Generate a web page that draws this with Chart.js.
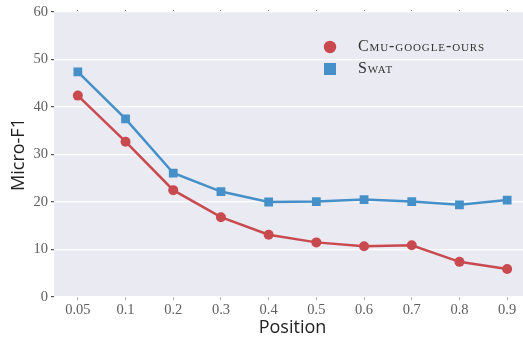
<!DOCTYPE html>
<html>
<head>
<meta charset="utf-8">
<script src="https://cdn.jsdelivr.net/npm/chart.js@4"></script>
<style>
  html, body { margin: 0; padding: 0; background: #fff; overflow: hidden; }
  #wrap { position: relative; width: 540px; height: 339px; }
</style>
</head>
<body>
<div id="wrap"><canvas id="chart"></canvas></div>
<script>
// Micro-F1 against position, two systems
const positions = ["0.05", "0.1", "0.2", "0.3", "0.4", "0.5", "0.6", "0.7", "0.8", "0.9"];
const cmuGoogleOurs = [42.4, 32.7, 22.5, 16.8, 13.1, 11.5, 10.7, 10.9, 7.4, 5.9];
const swat = [47.4, 37.5, 26.1, 22.2, 20.0, 20.1, 20.5, 20.1, 19.4, 20.4];
const yTicks = [0, 10, 20, 30, 40, 50, 60];

const RED = "#c84a4e";
const BLUE = "#4590c8";
const PANEL = "#eaeaf2";
const TICK_FONT = { family: "'Liberation Serif', 'DejaVu Serif', serif", size: 14.5 };
const TITLE_FONT = { family: "'Open Sans', 'DejaVu Sans', sans-serif", size: 18 };

// grey panel behind the plot
const panelBg = {
  id: "panelBg",
  beforeDraw(chart) {
    const a = chart.chartArea;
    const ctx = chart.ctx;
    ctx.save();
    ctx.fillStyle = PANEL;
    ctx.fillRect(a.left, a.top, a.right - a.left, a.bottom - a.top);
    ctx.restore();
  }
};

// legend drawn inside the panel, labels in small caps
const insideLegend = {
  id: "insideLegend",
  afterDraw(chart) {
    const ctx = chart.ctx;
    const a = chart.chartArea;
    const x0 = a.left + 276;
    let y = a.top + 35;
    ctx.save();
    chart.data.datasets.forEach((ds) => {
      ctx.fillStyle = ds.borderColor;
      if (ds.pointStyle === "rect") {
        ctx.fillRect(x0 - 6, y - 6, 12, 12);
      } else {
        ctx.beginPath();
        ctx.arc(x0, y, 6.2, 0, Math.PI * 2);
        ctx.fill();
      }
      ctx.fillStyle = "#333";
      ctx.font = "16px 'Liberation Serif', 'DejaVu Serif', serif";
      ctx.fontVariantCaps = "small-caps";
      ctx.letterSpacing = "0.9px";
      ctx.textBaseline = "middle";
      ctx.fillText(ds.label, x0 + 28, y);
      y += 22;
    });
    ctx.restore();
  }
};

new Chart(document.getElementById("chart"), {
  type: "line",
  data: {
    labels: positions,
    datasets: [
      {
        label: "Cmu-google-ours",
        data: cmuGoogleOurs,
        borderColor: RED,
        backgroundColor: RED,
        borderWidth: 2.5,
        pointStyle: "circle",
        pointRadius: 5,
        pointBorderWidth: 0,
        tension: 0
      },
      {
        label: "Swat",
        data: swat,
        borderColor: BLUE,
        backgroundColor: BLUE,
        borderWidth: 2.5,
        pointStyle: "rect",
        pointRadius: 6.2,
        pointBorderWidth: 0,
        tension: 0
      }
    ]
  },
  options: {
    responsive: true,
    maintainAspectRatio: false,
    animation: false,
    layout: { padding: { left: 0, right: 9, top: 0, bottom: 0 } },
    plugins: {
      legend: { display: false },
      tooltip: { enabled: false }
    },
    scales: {
      x: {
        type: "category",
        offset: true,
        border: { display: false },
        grid: { color: "rgba(0,0,0,0)", tickColor: "#aaa", tickLength: 3, offset: false },
        ticks: { color: "#606060", font: TICK_FONT, padding: 1, maxRotation: 0 },
        title: { display: true, text: "Position", color: "#222", font: TITLE_FONT, padding: { top: 0, bottom: 0 } },
        afterFit(scale) { scale.height = 42; }
      },
      xTop: {
        type: "category",
        position: "top",
        offset: true,
        border: { display: false },
        grid: { color: "rgba(0,0,0,0)", tickColor: "#888", tickLength: 2, offset: false },
        ticks: { display: false },
        afterFit(scale) { scale.height = 12; }
      },
      y: {
        min: 0,
        max: 60,
        afterBuildTicks(scale) { scale.ticks = yTicks.map((v) => ({ value: v })); },
        border: { display: false },
        grid: { color: "#ffffff", lineWidth: 1.2, tickColor: "#555", tickLength: 3 },
        ticks: { color: "#606060", font: TICK_FONT, padding: 3 },
        title: { display: true, text: "Micro-F1", color: "#222", font: TITLE_FONT, padding: { top: 8, bottom: 0 } },
        afterFit(scale) { scale.width = 54; }
      }
    }
  },
  plugins: [panelBg, insideLegend]
});
</script>
</body>
</html>
